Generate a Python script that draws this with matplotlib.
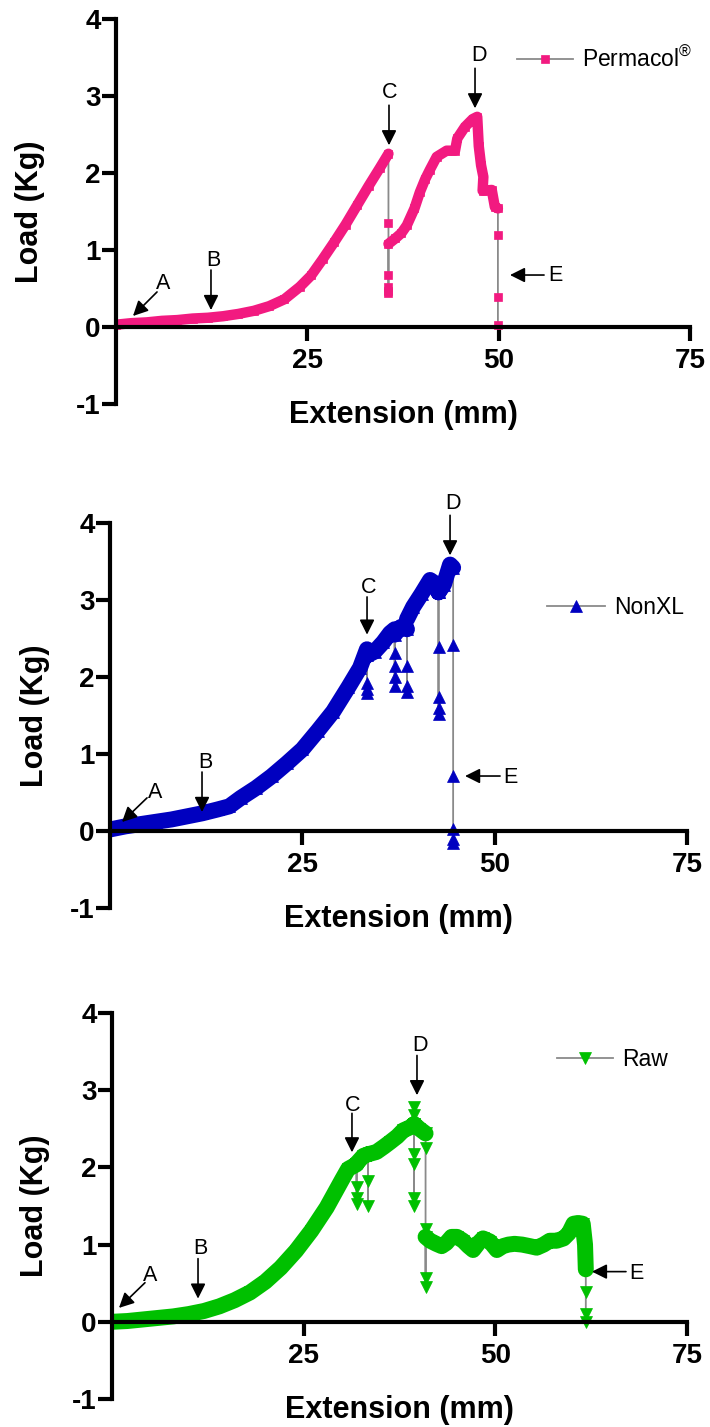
import numpy as np
import matplotlib
matplotlib.use('Agg')
import matplotlib.pyplot as plt

plt.rcParams['font.family'] = ['Liberation Sans', 'DejaVu Sans']
plt.rcParams['axes.unicode_minus'] = False
plt.rcParams['mathtext.fontset'] = 'custom'
plt.rcParams['mathtext.rm'] = 'Liberation Sans'

# ---------------- data ----------------
x_ticks = [25, 50, 75]
y_ticks = [-1, 0, 1, 2, 3, 4]
point_letters = ['A', 'B', 'C', 'D', 'E']

perm_x = [0, 2, 4, 6, 8, 10, 12, 14, 16, 18, 20, 22, 24, 25.5, 27, 28.5, 30, 31.5, 33, 34.5, 35.6,
          35.6, 35.6, 35.6, 35.6, 35.6,
          35.6, 36.5, 37.3, 38, 39, 39.7, 40.4, 41, 41.9, 43.2, 44.3, 44.6, 45.6, 46.6, 47.2, 47.4, 47.7, 48.0,
          47.9, 49.1, 49.5, 49.9,
          49.9, 49.9, 49.9]
perm_y = [0.03, 0.05, 0.06, 0.08, 0.09, 0.11, 0.12, 0.14, 0.17, 0.21, 0.27, 0.36, 0.52, 0.67, 0.88, 1.1, 1.33,
          1.58, 1.83, 2.07, 2.25,
          1.35, 0.67, 0.52, 0.47, 0.44,
          1.08, 1.15, 1.22, 1.32, 1.54, 1.75, 1.92, 2.04, 2.21, 2.29, 2.29, 2.45, 2.6, 2.7, 2.73, 2.35, 2.1, 1.95,
          1.77, 1.78, 1.56, 1.54,
          1.19, 0.39, 0.02]

nonxl_x = [0, 2, 4, 6, 8, 10, 12, 14, 15.5, 17, 19, 21, 23, 25, 27, 29, 31, 32.5, 33.4,
           33.4, 33.4, 33.4,
           33.4, 34.4, 35.5, 36.4, 37.0,
           37.0, 37.0, 37.0, 37.0,
           37.0, 37.8, 38.6,
           38.6, 38.6, 38.6,
           38.6, 39.4, 40.5, 41.6, 42.2, 42.7,
           42.7, 42.7, 42.7, 42.7,
           42.7, 43.4, 44.2, 44.6,
           44.6, 44.6, 44.6, 44.6, 44.6]
nonxl_y = [0.02, 0.06, 0.09, 0.12, 0.15, 0.19, 0.23, 0.28, 0.32, 0.43, 0.56, 0.71, 0.88, 1.06, 1.3, 1.55,
           1.87, 2.12, 2.36,
           1.92, 1.84, 1.79,
           2.28, 2.33, 2.45, 2.57, 2.62,
           2.31, 2.14, 2.0, 1.88,
           2.55, 2.65, 2.62,
           2.14, 1.88, 1.8,
           2.75, 2.91, 3.08, 3.26, 3.22, 3.1,
           2.39, 1.74, 1.6, 1.52,
           3.1, 3.2, 3.46, 3.42,
           2.41, 0.71, 0.02, -0.1, -0.15]

raw_x = [0, 2, 4, 6, 8, 10, 12, 14, 16, 18, 20, 22, 24, 26, 28, 30, 30.8, 31.9,
         31.9, 31.9, 31.9,
         31.9, 32.8, 33.4,
         33.4, 33.4,
         33.4, 34.5, 35.5, 36.3, 37.2, 38.0, 38.9, 39.4,
         39.4, 39.4, 39.4, 39.4, 39.4, 39.4,
         39.4, 40.1, 40.9,
         40.9, 40.9, 40.9, 40.9,
         40.9, 41.5, 42.3, 43.0, 43.6, 44.3, 45.0, 45.8, 46.5, 47.1, 47.8, 48.4, 49.3, 50.2, 51.0,
         51.7, 52.5, 53.5, 54.5, 55.4, 56.3, 57.1, 58.0, 58.9, 59.6, 60.2, 60.8, 61.4, 61.7, 61.8,
         61.8, 61.8, 61.8]
raw_y = [0.0, 0.01, 0.03, 0.05, 0.07, 0.1, 0.14, 0.2, 0.28, 0.38, 0.52, 0.7, 0.92, 1.18, 1.48, 1.84, 1.98, 2.04,
         1.74, 1.61, 1.53,
         2.05, 2.15, 2.17,
         1.83, 1.5,
         2.17, 2.2, 2.27, 2.33, 2.4, 2.48, 2.52, 2.56,
         2.78, 2.68, 2.18, 2.05, 1.6, 1.5,
         2.56, 2.5, 2.44,
         2.25, 1.2, 0.57, 0.45,
         1.1, 1.05, 1.01, 0.98, 1.02, 1.1, 1.1, 1.05, 0.98, 0.93, 1.02, 1.08, 1.04, 0.93, 0.98,
         1.0, 1.01, 1.0, 0.98, 0.96, 1.0, 1.05, 1.05, 1.08, 1.15, 1.27, 1.28, 1.27, 1.0, 0.68,
         0.38, 0.1, 0.0]

# ---------------- styling / layout ----------------
GRAY = '#8a8a8a'

panels = [
    dict(x=perm_x, y=perm_y, label=r'Permacol$^{\circledR}$', color='#F21A80', marker='s', ms=5.2,
         band_lw=7.5, rect=[116/710, 1023/1427, 574/710, 385/1427], ylab_x=-0.124,
         leg=(52.4, 3.47), leg_len=2.45,
         text=[(6.14, 0.57), (12.67, 0.87), (35.8, 3.04), (47.43, 3.52), (57.36, 0.675)],
         arrows=[((5.36, 0.455), (2.22, 0.143)), ((12.41, 0.74), (12.41, 0.22)),
                 ((35.67, 2.88), (35.67, 2.36)), ((46.91, 3.36), (46.91, 2.84)),
                 ((55.93, 0.675), (51.48, 0.675))]),
    dict(x=nonxl_x, y=nonxl_y, label='NonXL', color='#0000C0', marker='^', ms=9,
         band_lw=11.5, rect=[110/710, 519/1427, 577/710, 385/1427], ylab_x=-0.104,
         leg=(56.8, 2.90), leg_len=2.55,
         text=[(5.85, 0.506), (12.35, 0.896), (33.67, 3.16), (44.59, 4.25), (52.0, 0.69)],
         arrows=[((4.81, 0.43), (1.56, 0.117)), ((11.96, 0.766), (11.96, 0.247)),
                 ((33.41, 3.04), (33.41, 2.55)), ((44.2, 4.10), (44.2, 3.58)),
                 ((50.7, 0.714), (46.15, 0.714))]),
    dict(x=raw_x, y=raw_y, label='Raw', color='#00C000', marker='v', ms=9,
         band_lw=11.5, rect=[112/710, 28/1427, 575/710, 386/1427], ylab_x=-0.108,
         leg=(58.04, 3.40), leg_len=2.45,
         text=[(4.96, 0.6), (11.48, 0.948), (31.43, 2.805), (40.17, 3.58), (68.35, 0.623)],
         arrows=[((4.30, 0.506), (0.91, 0.18)), ((11.22, 0.818), (11.22, 0.30)),
                 ((31.30, 2.70), (31.30, 2.195)), ((39.78, 3.45), (39.78, 2.935)),
                 ((67.04, 0.65), (62.6, 0.65))]),
]


def band_xy(x, y):
    """Break the dense band wherever the series jumps vertically (same x)."""
    bx, by = [x[0]], [y[0]]
    for i in range(1, len(x)):
        if abs(x[i] - x[i - 1]) < 0.05:
            bx.append(np.nan)
            by.append(np.nan)
        bx.append(x[i])
        by.append(y[i])
    return bx, by


fig = plt.figure(figsize=(7.1, 14.27), dpi=100)

for p in panels:
    ax = fig.add_axes(p['rect'])
    line, = ax.plot(p['x'], p['y'], color=GRAY, lw=1.3, marker=p['marker'], ms=p['ms'],
                    mfc=p['color'], mec=p['color'], mew=0.5, label=p['label'], zorder=2)
    bx, by = band_xy(p['x'], p['y'])
    ax.plot(bx, by, color=p['color'], lw=p['band_lw'], solid_capstyle='round',
            solid_joinstyle='round', zorder=2.2)

    ax.set_xlim(0, 75)
    ax.set_ylim(-1, 4)
    ax.spines['top'].set_visible(False)
    ax.spines['right'].set_visible(False)
    ax.spines['bottom'].set_position(('data', 0))
    for s in ('left', 'bottom'):
        ax.spines[s].set_linewidth(3)
        ax.spines[s].set_zorder(3)
    ax.set_xticks(x_ticks)
    ax.set_yticks(y_ticks)
    ax.tick_params(axis='both', direction='out', width=3, labelsize=20)
    ax.tick_params(axis='y', length=10, pad=1)
    ax.tick_params(axis='x', length=10, pad=5)
    for lab in ax.get_xticklabels() + ax.get_yticklabels():
        lab.set_fontweight('bold')

    ax.set_ylabel('Load (Kg)', fontsize=22, fontweight='bold')
    ax.yaxis.set_label_coords(p['ylab_x'], 0.5)
    ax.set_xlabel('Extension (mm)', fontsize=22, fontweight='bold')
    ax.xaxis.set_label_coords(0.5, 0.01)

    for letter, (tx, ty), (tail, tip) in zip(point_letters, p['text'], p['arrows']):
        ax.text(tx, ty, letter, fontsize=15.5, ha='center', va='center', zorder=5)
        ax.annotate('', xy=tip, xytext=tail,
                    arrowprops=dict(arrowstyle='-|>,head_length=0.5,head_width=0.25',
                                    color='black', lw=1.2, mutation_scale=18,
                                    shrinkA=0, shrinkB=0), zorder=5)

    ax.legend(handles=[line], loc='center left', bbox_to_anchor=p['leg'],
              bbox_transform=ax.transData, frameon=False, borderpad=0, borderaxespad=0,
              handlelength=p['leg_len'], handletextpad=0.4, numpoints=1, fontsize=16.5)

fig.savefig('out.png', dpi=100)
